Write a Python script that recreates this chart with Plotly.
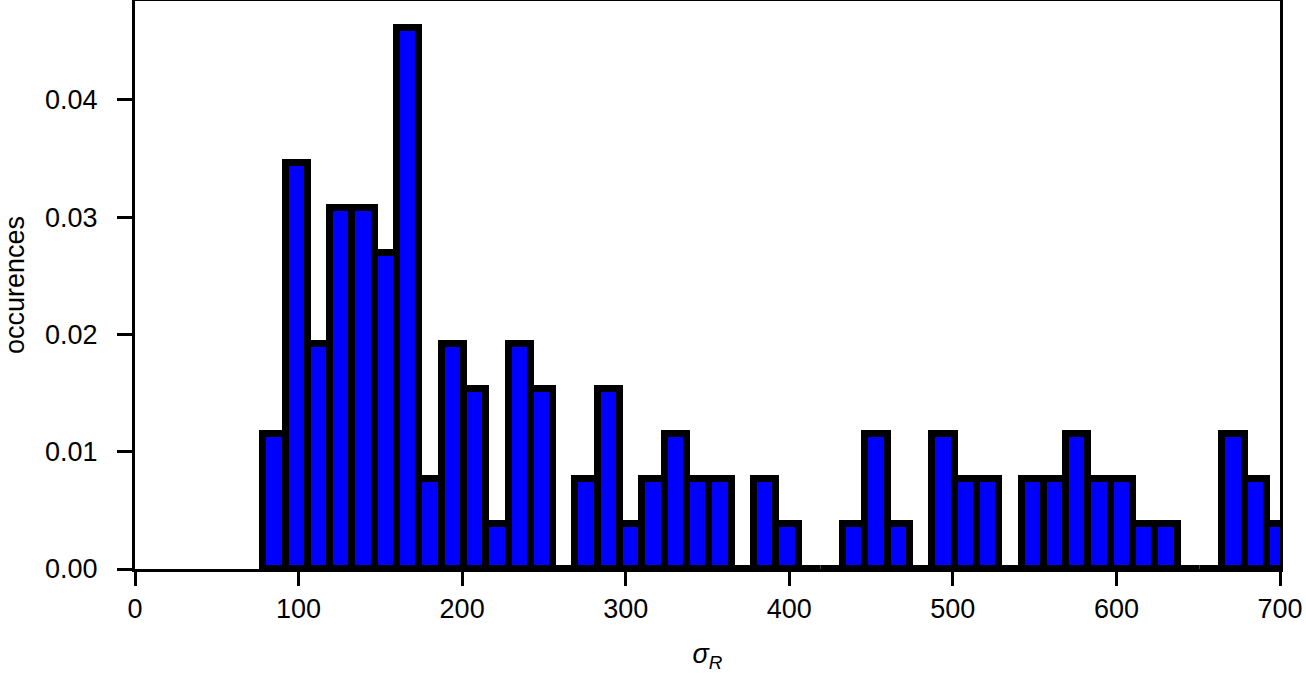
import plotly.graph_objects as go

# Histogram bins (left edges from first bin start + width)
bin_start = 78.4
bin_width = 13.635
occurrences = [
    0.01154, 0.03462, 0.01923, 0.03077, 0.03077, 0.02692, 0.04615, 0.00769,
    0.01923, 0.01538, 0.00385, 0.01923, 0.01538, 0.0, 0.00769, 0.01538,
    0.00385, 0.00769, 0.01154, 0.00769, 0.00769, 0.0, 0.00769, 0.00385,
    0.0, 0.0, 0.00385, 0.01154, 0.00385, 0.0, 0.01154, 0.00769,
    0.00769, 0.0, 0.00769, 0.00769, 0.01154, 0.00769, 0.00769, 0.00385,
    0.00385, 0.0, 0.0, 0.01154, 0.00769, 0.00385,
]
left_edges = [bin_start + i * bin_width for i in range(len(occurrences))]

x_ticks = [0, 100, 200, 300, 400, 500, 600, 700]
y_ticks = [0.0, 0.01, 0.02, 0.03, 0.04]

FONT = "Liberation Sans"
FS = 27

fig = go.Figure(
    go.Bar(
        x=left_edges,
        y=occurrences,
        width=bin_width,
        offset=0,
        marker=dict(color="#0000ff", line=dict(color="#000000", width=7)),
    )
)

fig.update_layout(
    width=1306,
    height=673,
    margin=dict(l=135, r=26, t=1, b=104),
    plot_bgcolor="white",
    paper_bgcolor="white",
    showlegend=False,
    bargap=0,
    font=dict(family=FONT, size=FS, color="black"),
)

fig.update_xaxes(
    range=[0, 700],
    tickvals=x_ticks,
    ticktext=[str(v) for v in x_ticks],
    ticks="outside",
    ticklen=14,
    tickwidth=3,
    tickcolor="black",
    showline=True,
    linewidth=3,
    linecolor="black",
    mirror=True,
    showgrid=False,
    zeroline=False,
    automargin=False,
    title=dict(text="<i>σ</i><sub><i>R</i></sub>", font=dict(family=FONT, size=FS), standoff=24),
)
fig.update_yaxes(
    range=[0, 0.04844],
    tickvals=y_ticks,
    ticktext=[f"{v:.2f}" for v in y_ticks],
    ticks="outside",
    ticklen=15,
    tickwidth=3,
    tickcolor="black",
    ticklabelstandoff=14,
    showline=True,
    linewidth=3,
    linecolor="black",
    mirror=True,
    showgrid=False,
    zeroline=False,
    automargin=False,
    title=dict(text="occurences", font=dict(family=FONT, size=FS), standoff=17),
)

fig.write_html(
    "out.html",
    config={"displayModeBar": False},
    post_script="document.body.style.margin='0';document.body.style.overflow='hidden';",
)
